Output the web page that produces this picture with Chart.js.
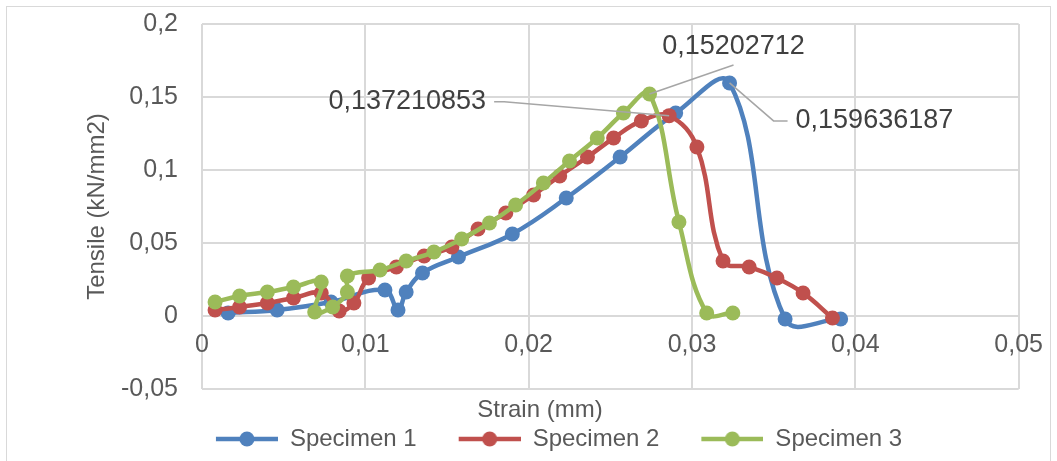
<!DOCTYPE html>
<html>
<head>
<meta charset="utf-8">
<script src="https://cdn.jsdelivr.net/npm/chart.js@4"></script>
<style>
html, body { margin: 0; padding: 0; background: #fff; }
#wrap { position: relative; width: 1057px; height: 461px; overflow: hidden; }
#frame { position: absolute; left: 6px; top: 6px; width: 1045px; height: 480px; border: 1px solid #d9d9d9; box-sizing: border-box; }
#myChart { position: absolute; left: 0; top: 0; }
</style>
</head>
<body>
<div id="wrap"><div id="frame"></div><canvas id="myChart" width="1057" height="461"></canvas></div>
<script>
// Strain (mm) / Tensile (kN/mm2)
const strain1 = [0.0016, 0.0046, 0.0079, 0.0112, 0.0120, 0.0125, 0.0135, 0.0157, 0.0190, 0.0223, 0.0256, 0.0290, 0.0323, 0.0357, 0.0391];
const tensile1 = [0.0021, 0.0041, 0.0096, 0.0178, 0.0041, 0.0164, 0.0295, 0.0404, 0.0562, 0.0808, 0.1089, 0.1390, 0.159636187, -0.0021, -0.0021];

const strain2 = [0.0008, 0.0023, 0.0040, 0.0056, 0.0073, 0.0084, 0.0093, 0.0102, 0.0119, 0.0136, 0.0153, 0.0169, 0.0186, 0.0203, 0.0219, 0.0236, 0.0252, 0.0269, 0.0286, 0.0303, 0.0319, 0.0335, 0.0352, 0.0368, 0.0386];
const tensile2 = [0.0041, 0.0062, 0.0089, 0.0123, 0.0158, 0.0034, 0.0089, 0.0260, 0.0336, 0.0411, 0.0473, 0.0596, 0.0705, 0.0829, 0.0959, 0.1089, 0.1219, 0.1336, 0.137210853, 0.1158, 0.0377, 0.0336, 0.0260, 0.0158, -0.0014];

const strain3 = [0.0008, 0.0023, 0.0040, 0.0056, 0.0073, 0.0069, 0.0080, 0.0089, 0.0089, 0.0109, 0.0125, 0.0142, 0.0159, 0.0176, 0.0192, 0.0209, 0.0225, 0.0242, 0.0258, 0.0274, 0.0292, 0.0309, 0.0325];
const tensile3 = [0.0096, 0.0137, 0.0164, 0.0199, 0.0233, 0.0027, 0.0062, 0.0164, 0.0274, 0.0315, 0.0377, 0.0438, 0.0527, 0.0637, 0.0760, 0.0911, 0.1062, 0.1219, 0.1390, 0.15202712, 0.0644, 0.0021, 0.0021];

const seriesNames = ['Specimen 1', 'Specimen 2', 'Specimen 3'];
const colors = ['#4f81bd', '#c0504d', '#9bbb59'];

const FONT = 'Liberation Sans, Arial, sans-serif';
const comma = v => String(+(+v).toFixed(3)).replace('.', ',');

function pairs(xs, ys) {
    return xs.map((x, i) => ({x: x, y: ys[i]}));
}

// legend marker: line with a dot, like the excel one
function legendMarker(color) {
    const c = document.createElement('canvas');
    c.width = 100; c.height = 18;
    const g = c.getContext('2d');
    g.strokeStyle = color;
    g.lineWidth = 4.5;
    g.beginPath(); g.moveTo(38, 9); g.lineTo(100, 9); g.stroke();
    g.fillStyle = color;
    g.beginPath(); g.arc(69, 9, 7.5, 0, Math.PI * 2); g.fill();
    return c;
}
const markers = colors.map(legendMarker);

// which points get a value label, and where the label sits relative to the point
const peakLabels = [
    {dataset: 2, index: 19, leader: [[84, -29]], text: [84, -47], align: 'center'},
    {dataset: 1, index: 18, leader: [[-165, -14], [-175, -14]], text: [-183, -14], align: 'right'},
    {dataset: 0, index: 12, leader: [[44, 38], [58, 38]], text: [66, 38], align: 'left'}
];

const valueLabels = {
    id: 'valueLabels',
    afterDatasetsDraw(chart) {
        const ctx = chart.ctx;
        ctx.save();
        peakLabels.forEach(l => {
            const pt = chart.getDatasetMeta(l.dataset).data[l.index];
            const v = chart.data.datasets[l.dataset].data[l.index].y;
            ctx.strokeStyle = '#a6a6a6';
            ctx.lineWidth = 1.5;
            ctx.beginPath();
            ctx.moveTo(pt.x, pt.y);
            l.leader.forEach(p => ctx.lineTo(pt.x + p[0], pt.y + p[1]));
            ctx.stroke();
            ctx.fillStyle = '#404040';
            ctx.font = '27px ' + FONT;
            ctx.textAlign = l.align;
            ctx.textBaseline = 'middle';
            ctx.fillText(String(v).replace('.', ','), pt.x + l.text[0], pt.y + l.text[1]);
        });
        ctx.restore();
    }
};

const data = {
    datasets: [0, 1, 2].map(i => ({
        label: seriesNames[i],
        data: pairs([strain1, strain2, strain3][i], [tensile1, tensile2, tensile3][i]),
        borderColor: colors[i],
        backgroundColor: colors[i],
        borderWidth: 4.5,
        pointRadius: 7.5,
        pointBorderWidth: 0,
        showLine: true,
        tension: 0.4,
        order: 2 - i
    }))
};

const gridColor = '#d9d9d9';

const config = {
    type: 'scatter',
    data: data,
    plugins: [valueLabels],
    options: {
        responsive: false,
        animation: false,
        layout: {
            padding: {left: 50, right: 27, top: 24, bottom: 0}
        },
        plugins: {
            tooltip: {enabled: false},
            title: {
                display: true,
                position: 'bottom',
                text: 'Strain (mm)',
                color: '#595959',
                weight: 500,
                font: {size: 24, family: FONT, weight: 'normal', lineHeight: 1},
                padding: {top: 9, bottom: 1}
            },
            legend: {
                position: 'bottom',
                labels: {
                    usePointStyle: true,
                    pointStyleWidth: 100,
                    padding: 4,
                    color: '#595959',
                    font: {size: 24, family: FONT},
                    generateLabels: chart => Chart.defaults.plugins.legend.labels.generateLabels(chart)
                        .map(l => Object.assign(l, {pointStyle: markers[l.datasetIndex]})),
                    sort: (a, b) => a.datasetIndex - b.datasetIndex
                }
            }
        },
        scales: {
            x: {
                type: 'linear',
                position: 'bottom',
                min: 0,
                max: 0.05,
                ticks: {display: false, stepSize: 0.01},
                grid: {color: gridColor, lineWidth: 2, drawTicks: false},
                border: {display: false},
                afterFit: s => { s.height = 0; }
            },
            // second x scale only for the tick labels sitting on the zero line
            xLabels: {
                type: 'linear',
                axis: 'x',
                position: {y: 0},
                min: 0,
                max: 0.05,
                ticks: {
                    stepSize: 0.01,
                    padding: 14,
                    color: '#595959',
                    font: {size: 25, family: FONT},
                    callback: v => comma(v)
                },
                grid: {display: false, drawTicks: false},
                border: {display: false}
            },
            y: {
                min: -0.05,
                max: 0.2,
                ticks: {
                    stepSize: 0.05,
                    padding: 24,
                    color: '#595959',
                    font: {size: 25, family: FONT},
                    callback: v => comma(v)
                },
                title: {
                    display: true,
                    text: 'Tensile (kN/mm2)',
                    color: '#595959',
                    font: {size: 24, family: FONT},
                    padding: {top: 33, bottom: 0}
                },
                grid: {color: gridColor, lineWidth: 2, drawTicks: false},
                border: {display: false},
                afterFit: s => {
                    s.width = 152;
                    s.paddingTop = 0;
                    s.paddingBottom = 0;
                }
            }
        }
    }
};

const ctx = document.getElementById('myChart').getContext('2d');
new Chart(ctx, config);
</script>
</body>
</html>
